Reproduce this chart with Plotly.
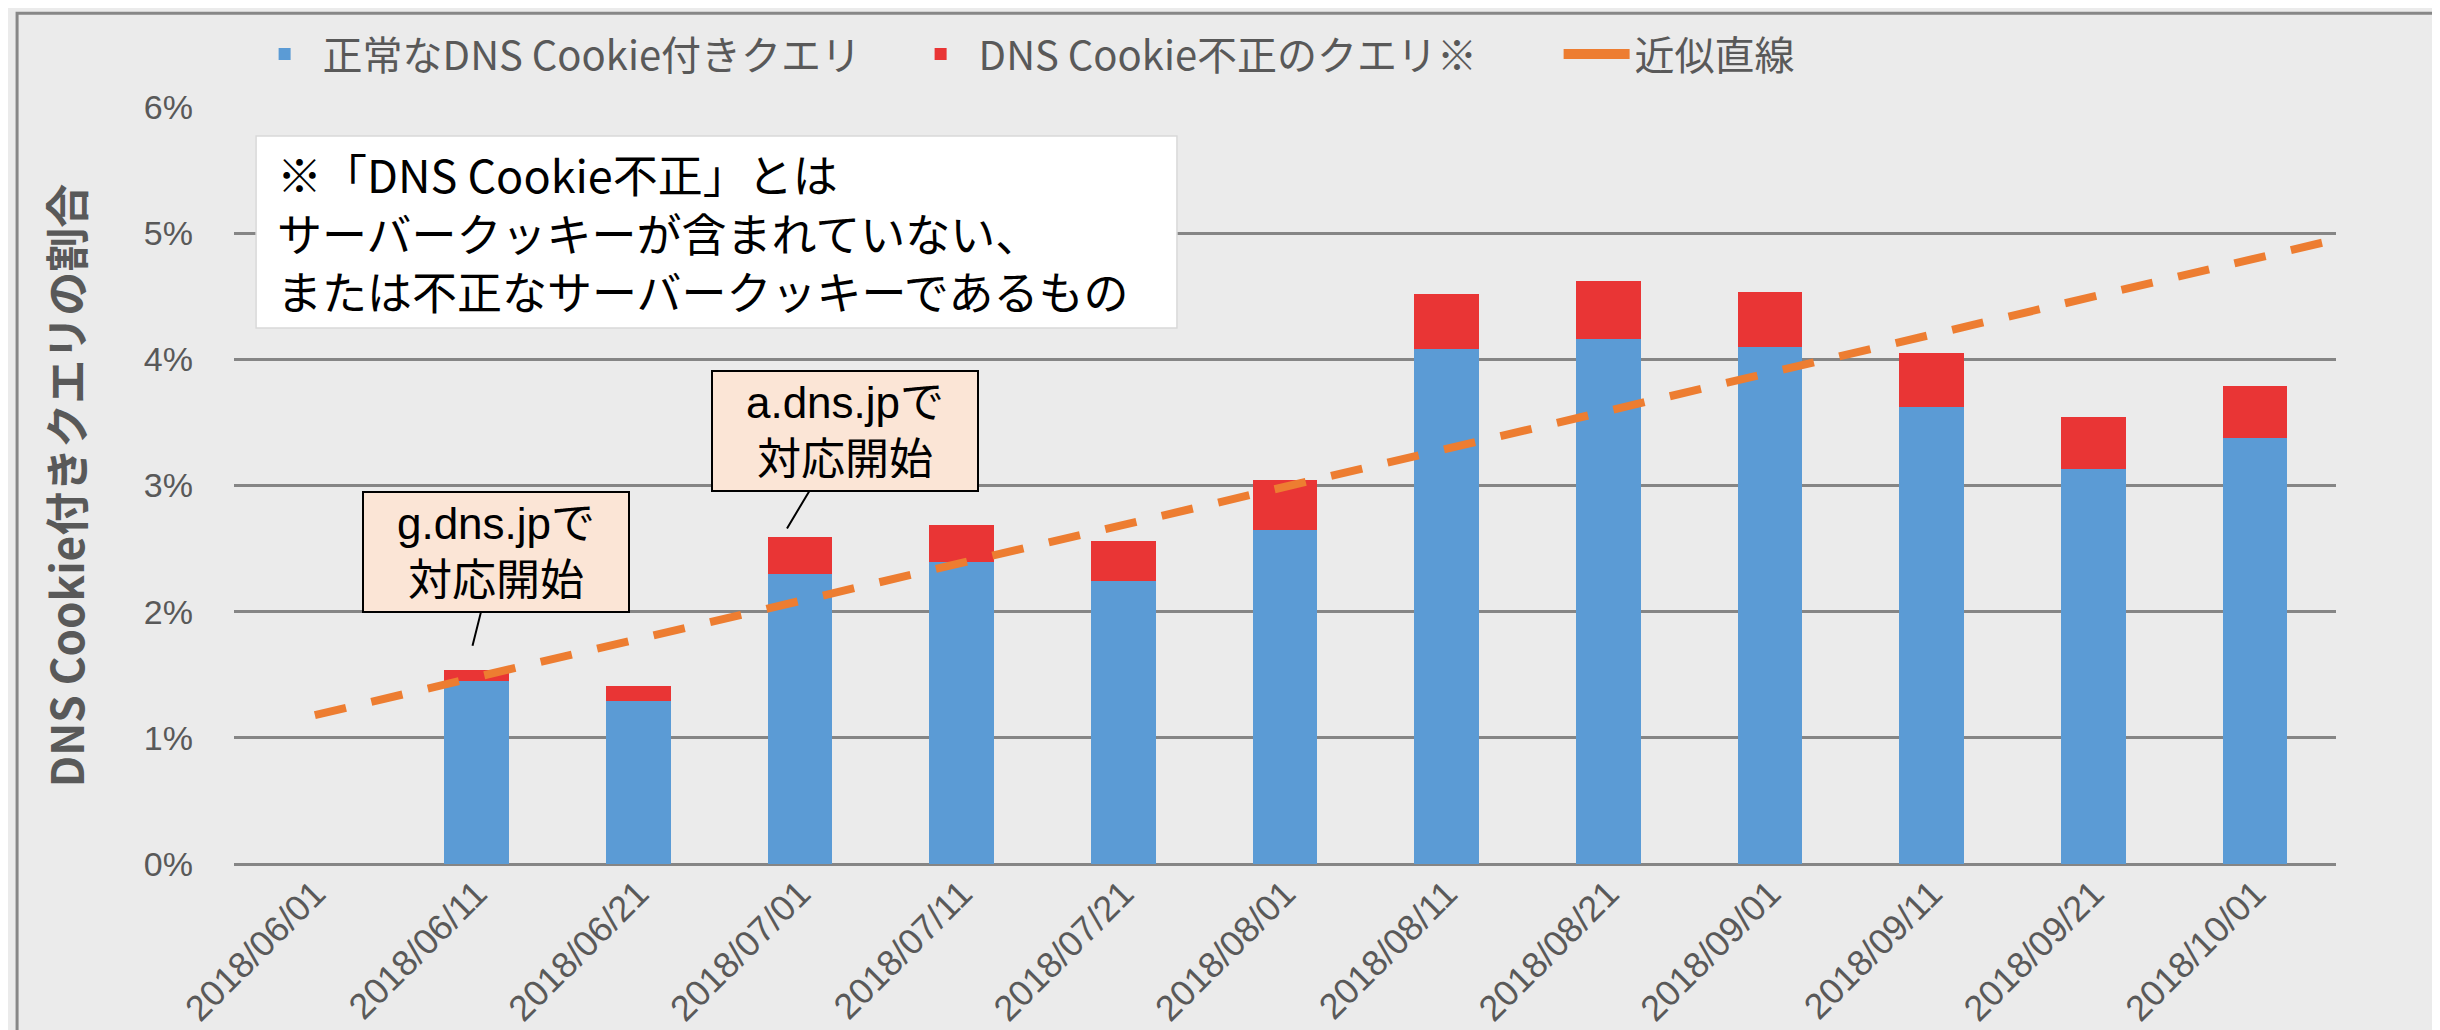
import plotly.graph_objects as go

# 10-day buckets (category axis)
dates = [
    "2018/06/01", "2018/06/11", "2018/06/21", "2018/07/01", "2018/07/11",
    "2018/07/21", "2018/08/01", "2018/08/11", "2018/08/21", "2018/09/01",
    "2018/09/11", "2018/09/21", "2018/10/01",
]
# share of queries (%)
valid_cookie = [None, 1.45, 1.29, 2.30, 2.39, 2.24, 2.65, 4.08, 4.16, 4.10, 3.62, 3.13, 3.38]
invalid_cookie = [None, 0.09, 0.12, 0.29, 0.30, 0.32, 0.39, 0.44, 0.46, 0.43, 0.43, 0.41, 0.41]
# linear trend line: from the first bucket to the right edge of the plot
trend_pos = [0, 12.5]
trend_val = [1.18, 4.95]

y_ticks = [0, 1, 2, 3, 4, 5, 6]

BLUE = "#5B9BD5"
RED = "#E93535"
ORANGE = "#ED7D31"
GREY_TXT = "#595959"
BG = "#EBEBEB"
JP = "Noto Sans CJK JP"
LAT = "Liberation Sans"

pos = list(range(len(dates)))

fig = go.Figure()
fig.add_bar(x=pos, y=valid_cookie, name="正常なDNS Cookie付きクエリ",
            marker=dict(color=BLUE, line=dict(width=0)))
fig.add_bar(x=pos, y=invalid_cookie, name="DNS Cookie不正のクエリ※",
            marker=dict(color=RED, line=dict(width=0)))
fig.add_scatter(x=trend_pos, y=trend_val, mode="lines", name="近似直線",
                showlegend=False,
                line=dict(color=ORANGE, width=8, dash="32px,26px"))
# legend entry for the trend line (solid swatch like the original)
fig.add_scatter(x=[None], y=[None], mode="lines", name="近似直線",
                line=dict(color=ORANGE, width=10))

# note box (upper left)
fig.add_shape(type="rect", xref="paper", yref="paper",
              x0=0.0105, x1=0.4486, y0=0.708, y1=0.9617,
              fillcolor="white", line=dict(color="#D9D9D9", width=1.5), layer="above")
fig.add_annotation(
    xref="paper", yref="paper", x=0.0195, y=0.835, xanchor="left", yanchor="middle",
    text="※「DNS Cookie不正」とは<br>サーバークッキーが含まれていない、<br>または不正なサーバークッキーであるもの",
    align="left", showarrow=False,
    font=dict(family=JP, size=45, color="black"),
)

# callouts
callouts = [
    ("g.dns.jpで<br>対応開始", 0.975, 1.73, 1.12, 2.47),
    ("a.dns.jpで<br>対応開始", 2.92, 2.66, 3.28, 3.43),
]
for text, tx, ty, bx, by in callouts:
    fig.add_annotation(
        x=tx, y=ty, ax=bx, ay=by, axref="x", ayref="y",
        text=text, showarrow=True, arrowhead=0, arrowwidth=2, arrowcolor="black",
        width=240, height=94, borderpad=12,
        bgcolor="#FBE5D6", bordercolor="black", borderwidth=2,
        font=dict(family=LAT + ", " + JP, size=44, color="black"),
    )

# outer frame
fig.add_shape(type="rect", xref="paper", yref="paper",
              x0=-0.1032, x1=1.048, y0=-0.4, y1=1.124,
              line=dict(color="#878787", width=3), layer="below")

fig.update_layout(
    width=2440, height=1030,
    margin=dict(l=226, r=112, t=99, b=174, autoexpand=False),
    paper_bgcolor=BG, plot_bgcolor=BG,
    barmode="stack", bargap=0.6,
    legend=dict(orientation="h", x=0.006, y=1.07, xanchor="left", yanchor="middle",
                font=dict(family=JP, size=40, color=GREY_TXT), bgcolor="rgba(0,0,0,0)",
                traceorder="normal", itemwidth=66,
                entrywidth=575, entrywidthmode="pixels"),
    showlegend=True,
)
fig.update_xaxes(
    range=[-0.5, 12.5], tickvals=pos, ticktext=dates, tickangle=-45,
    showgrid=False, zeroline=False, showline=False, ticks="",
    tickfont=dict(family=LAT, size=36, color=GREY_TXT),
)
fig.update_yaxes(
    range=[0, 6], tickvals=y_ticks, ticktext=[f"{v}%" for v in y_ticks],
    showgrid=True, gridcolor="#858585", gridwidth=2.5,
    zeroline=True, zerolinecolor="#858585", zerolinewidth=3,
    ticks="", ticklabelstandoff=40,
    tickfont=dict(family=LAT, size=34, color=GREY_TXT),
    title=dict(text="DNS Cookie付きクエリの割合", standoff=45,
               font=dict(family=JP, size=44, color=GREY_TXT, weight="bold")),
)

fig.write_html("out.html")
